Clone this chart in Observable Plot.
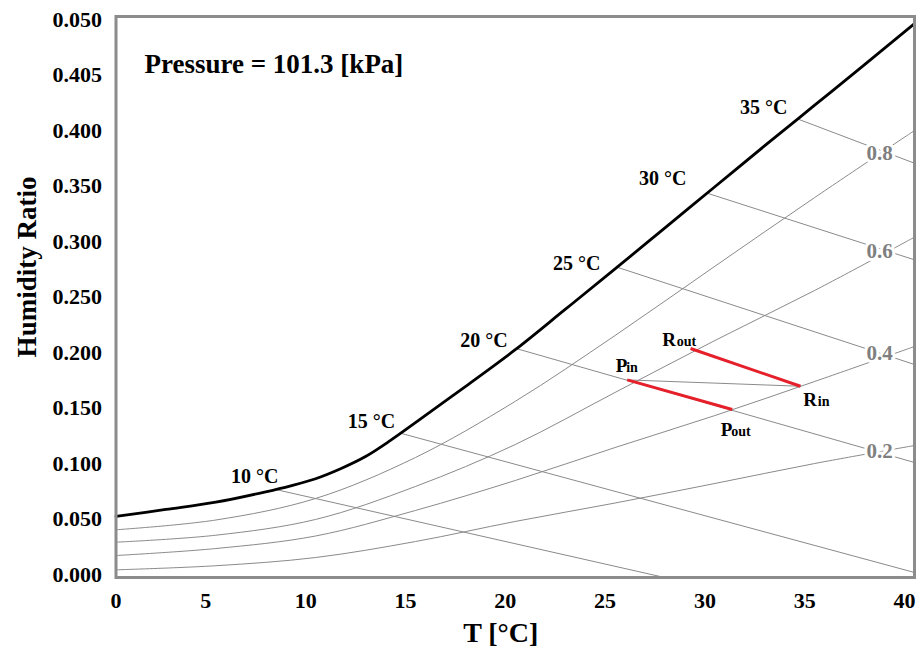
<!DOCTYPE html>
<html><head><meta charset="utf-8">
<script src="https://cdn.jsdelivr.net/npm/d3@7"></script>
<script src="https://cdn.jsdelivr.net/npm/@observablehq/plot@0.6"></script>
<style>body{margin:0;background:#fff} #chart svg{display:block}</style>
</head><body><div id="chart"></div>
<script>
// Saturation curve
const satT = [0, 2.5, 5, 7.5, 8.75, 10, 11.25, 12.5, 13.75, 15, 17.5, 20, 22.5, 25, 27.5, 30, 32.5, 35, 37.5, 40];
const saturation = [0.0550, 0.0613, 0.0678, 0.0772, 0.0826, 0.0890, 0.0980, 0.1090, 0.1235, 0.1395, 0.1720, 0.2052, 0.2415, 0.2780, 0.3150, 0.3520, 0.3890, 0.4255, 0.4620, 0.4990];

// Relative humidity curves
const rhT = [0, 5, 10, 15, 20, 25, 30, 35, 40];
const rhNames = ["0.2", "0.4", "0.6", "0.8"];
const rh20 = [0.0069, 0.0106, 0.0180, 0.0324, 0.0505, 0.0671, 0.0847, 0.1027, 0.1189];
const rh40 = [0.0198, 0.0261, 0.0374, 0.0604, 0.0874, 0.1171, 0.1459, 0.1766, 0.2081];
const rh60 = [0.0318, 0.0381, 0.0523, 0.0820, 0.1198, 0.1667, 0.2135, 0.2586, 0.3066];
const rh80 = [0.0430, 0.0518, 0.0712, 0.1081, 0.1587, 0.2180, 0.2804, 0.3423, 0.4027];
const rhLabelX = [38.25, 38.25, 38.25, 38.25];
const rhLabelY = [0.1140, 0.2022, 0.2937, 0.3822];

// Constant temperature lines from the saturation curve
const wbTemps = [10, 15, 20, 25, 30, 35];
const wbStartX = [7.99, 14.25, 20.10, 25.11, 29.62, 34.13];
const wbStartY = [0.0793, 0.1300, 0.2060, 0.2795, 0.3462, 0.4132];
const wbEndX = [27.48, 40, 40, 40, 40, 40];
const wbEndY = [0.0000, 0.0045, 0.1036, 0.1919, 0.2862, 0.3732];
const wbLabelX = [8.14, 13.99, 19.62, 24.27, 28.58, 33.64];
const wbLabelY = [0.0847, 0.1351, 0.2081, 0.2766, 0.3532, 0.4180];

// Process states
const stateNames = ["Pin", "Pout", "Rin", "Rout"];
const stateX = [25.61, 30.87, 34.29, 28.78];
const stateY = [0.1780, 0.1514, 0.1723, 0.2063];
const stateMain = ["P", "P", "R", "R"];
const stateSub = ["in", "out", "in", "out"];
const stateLabelX = [25.03, 30.29, 34.43, 27.36];
const stateLabelY = [0.1850, 0.1279, 0.1541, 0.2090];

// Axes
const xTicks = [0, 5, 10, 15, 20, 25, 30, 35, 40];
const yTicks = [0, 0.05, 0.1, 0.15, 0.2, 0.25, 0.3, 0.35, 0.4, 0.45, 0.5];
const yTickLabels = ["0.000", "0.050", "0.100", "0.150", "0.200", "0.250", "0.300", "0.350", "0.400", "0.405", "0.050"];

const yLabelMap = new Map(yTicks.map((v, i) => [v, yTickLabels[i]]));
const satData = satT.map((t, i) => ({t, w: saturation[i]}));
const rhData = [rh20, rh40, rh60, rh80].flatMap((arr, k) => rhT.map((t, i) => ({rh: rhNames[k], t, w: arr[i]})));
const rhLabelData = rhNames.map((n, i) => ({n, x: rhLabelX[i], y: rhLabelY[i]}));
const wbData = wbTemps.map((t, i) => ({t, x1: wbStartX[i], y1: wbStartY[i], x2: wbEndX[i], y2: wbEndY[i], lx: wbLabelX[i], ly: wbLabelY[i]}));
const st = Object.fromEntries(stateNames.map((n, i) => [n, {x: stateX[i], y: stateY[i]}]));
const redSegs = [["Pin", "Pout"], ["Rout", "Rin"]].map(([a, b]) => ({x1: st[a].x, y1: st[a].y, x2: st[b].x, y2: st[b].y}));
const graySeg = [{x1: st.Pin.x, y1: st.Pin.y, x2: st.Rin.x, y2: st.Rin.y}];
const stateLabels = stateNames.map((n, i) => ({main: stateMain[i], sub: stateSub[i], x: stateLabelX[i], y: stateLabelY[i]}));

const gray = "#8a8a8a";
const chart = Plot.plot({
  width: 921,
  height: 649,
  marginLeft: 115.5,
  marginRight: 7,
  marginTop: 16,
  marginBottom: 72,
  style: {fontFamily: "'Liberation Serif', 'Times New Roman', serif", fontWeight: "bold", background: "white", color: "black"},
  x: {domain: [0, 40], axis: null},
  y: {domain: [0, 0.5054], axis: null},
  marks: [
    Plot.line(rhData, {x: "t", y: "w", z: "rh", stroke: gray, strokeWidth: 1, curve: "catmull-rom"}),
    Plot.link(wbData, {x1: "x1", y1: "y1", x2: "x2", y2: "y2", stroke: gray, strokeWidth: 1}),
    Plot.link(graySeg, {x1: "x1", y1: "y1", x2: "x2", y2: "y2", stroke: gray, strokeWidth: 1}),
    Plot.line(satData, {x: "t", y: "w", stroke: "black", strokeWidth: 2.8, curve: "catmull-rom"}),
    Plot.link(redSegs, {x1: "x1", y1: "y1", x2: "x2", y2: "y2", stroke: "#e5202a", strokeWidth: 3}),
    Plot.text(rhLabelData, {x: "x", y: "y", text: "n", fill: "#7f7f7f", stroke: "white", strokeWidth: 6, fontSize: 21, fontWeight: "bold", textAnchor: "middle", lineAnchor: "middle"}),
    Plot.text(wbData, {x: "lx", y: "ly", text: d => `${d.t} °C`, fontSize: 20, fontWeight: "bold", textAnchor: "end", lineAnchor: "bottom"}),
    Plot.text(stateLabels, {x: "x", y: "y", text: "main", fontSize: 19, fontWeight: "bold", textAnchor: "start", lineAnchor: "bottom"}),
    Plot.text(stateLabels.filter(d => d.main === "P"), {x: "x", y: "y", text: "sub", dx: 10.5, fontSize: 14, fontWeight: "bold", textAnchor: "start", lineAnchor: "bottom"}),
    Plot.text(stateLabels.filter(d => d.main === "R"), {x: "x", y: "y", text: "sub", dx: 14.5, fontSize: 14, fontWeight: "bold", textAnchor: "start", lineAnchor: "bottom"}),
    Plot.text(["Pressure = 101.3 [kPa]"], {frameAnchor: "top-left", dx: 28.5, dy: 56, fontSize: 27, fontWeight: "bold", textAnchor: "start", lineAnchor: "bottom"}),
    Plot.frame({stroke: "#8c8c8c", strokeWidth: 3}),
    Plot.axisY({ticks: yTicks, tickFormat: d => yLabelMap.get(d), tickSize: 0, tickPadding: 14, dy: -3, fontSize: 22, fontWeight: "bold", label: null}),
    Plot.axisX({ticks: xTicks.slice(0, 1), tickFormat: d => String(d), tickSize: 0, tickPadding: 15, fontSize: 22, fontWeight: "bold", label: null}),
    Plot.axisX({ticks: xTicks.slice(1), tickFormat: d => String(d), tickSize: 0, tickPadding: 15, dx: -10, fontSize: 22, fontWeight: "bold", label: null}),
    Plot.text(["T [°C]"], {frameAnchor: "bottom", dx: -14.5, dy: 64, fontSize: 28, fontWeight: "bold", textAnchor: "middle", lineAnchor: "bottom"}),
    Plot.text(["Humidity Ratio"], {frameAnchor: "left", dx: -80.5, dy: -30, rotate: -90, fontSize: 27, fontWeight: "bold", textAnchor: "middle", lineAnchor: "bottom"})
  ]
});
document.getElementById("chart").appendChild(chart);
</script>
</body></html>
